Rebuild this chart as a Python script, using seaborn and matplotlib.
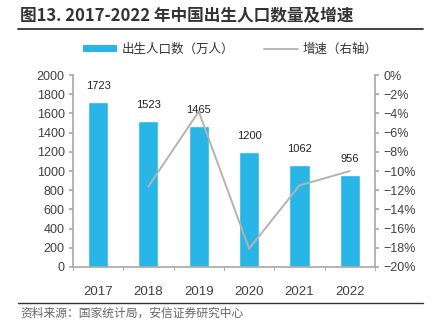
import matplotlib
matplotlib.use("Agg")
import matplotlib.pyplot as plt
import seaborn as sns
import pandas as pd
import numpy as np
from matplotlib.lines import Line2D
from matplotlib.patches import Patch

years = ["2017", "2018", "2019", "2020", "2021", "2022"]
births = [1723, 1523, 1465, 1200, 1062, 956]
growth = [np.nan, -11.6, -3.8, -18.1, -11.5, -10.0]
left_ticks = [0, 200, 400, 600, 800, 1000, 1200, 1400, 1600, 1800, 2000]
right_ticks = [0, -2, -4, -6, -8, -10, -12, -14, -16, -18, -20]

sns.set_theme(style="white")
plt.rcParams['font.family'] = ['Liberation Sans', 'Noto Sans CJK SC', 'DejaVu Sans']
plt.rcParams['axes.unicode_minus'] = True

df = pd.DataFrame({"year": years, "births": births, "growth": growth})

fig = plt.figure(figsize=(4.34, 3.28), dpi=100)
ax = fig.add_axes([0.168, 0.186, 0.696, 0.585])
bar_color = "#29B6E6"
line_color = "#B3B3B3"
tick_color = "#404040"
spine_color = "#AAAAAA"

sns.barplot(data=df, x="year", y="births", color=bar_color, width=0.4,
            saturation=1, ax=ax)
ax.set_ylim(0, 2000)
ax.set_yticks(left_ticks)
ax.set_xlabel("")
ax.set_ylabel("")
for i, v in enumerate(births):
    ax.text(i, v + 115, str(v), ha="center", va="bottom", fontsize=8, color="#222222")

ax2 = ax.twinx()
sns.lineplot(x=np.arange(len(years)), y=df["growth"], color=line_color, lw=1.4, ax=ax2)
ax2.set_ylim(-20, 0)
ax2.set_yticks(right_ticks)
ax2.set_yticklabels([f"{t}%".replace("-", "\u2212") for t in right_ticks])
ax2.set_ylabel("")
ax.set_xlim(-0.5, 5.5)

for a in (ax, ax2):
    for s in a.spines.values():
        s.set_visible(False)
ax.spines["left"].set_visible(True)
ax.spines["left"].set_color(spine_color)
ax.spines["bottom"].set_visible(True)
ax.spines["bottom"].set_color(spine_color)
ax2.spines["right"].set_visible(True)
ax2.spines["right"].set_color(spine_color)

ax.tick_params(axis="y", which="both", left=True, length=3, color=spine_color,
               labelsize=9, labelcolor=tick_color, pad=3)
ax.tick_params(axis="x", bottom=False, labelsize=9.5, labelcolor=tick_color, pad=8)
ax2.tick_params(axis="y", right=True, length=3, color=spine_color,
                labelsize=9, labelcolor=tick_color, pad=3)
ax.set_xticks(range(len(years)))
ax.set_xticklabels(years)
# category separators on x axis
for xb in np.arange(-0.5, 5.6, 1.0):
    ax.plot([xb, xb], [0, -30], color=spine_color, lw=0.8, clip_on=False)

cjk = ['Noto Sans CJK SC', 'DejaVu Sans']
fig.text(0.046, 0.95, "图13. 2017-2022 年中国出生人口数量及增速", fontsize=12,
         fontweight="bold", color="#333333", family=cjk, va="center", ha="left")
fig.add_artist(Line2D([0.041, 0.975], [0.912, 0.912], color="#333333", lw=1.3))

handles = [Patch(facecolor=bar_color, edgecolor="none"),
           Line2D([0], [0], color=line_color, lw=1.3)]
leg = fig.legend(handles, ["出生人口数（万人）", "增速（右轴）"], loc="center",
                 bbox_to_anchor=(0.531, 0.85), ncol=2, frameon=False,
                 prop={'family': cjk, 'size': 9}, handlelength=2.7,
                 handleheight=0.5, columnspacing=2.4, handletextpad=0.4)
for t in leg.get_texts():
    t.set_color("#333333")

fig.add_artist(Line2D([0.041, 0.975], [0.077, 0.077], color="#333333", lw=1.0))
fig.text(0.048, 0.045, "资料来源：国家统计局，安信证券研究中心", fontsize=8.5,
         color="#666666", family=cjk, va="center", ha="left", style="italic")

fig.savefig("out.png", dpi=100)
